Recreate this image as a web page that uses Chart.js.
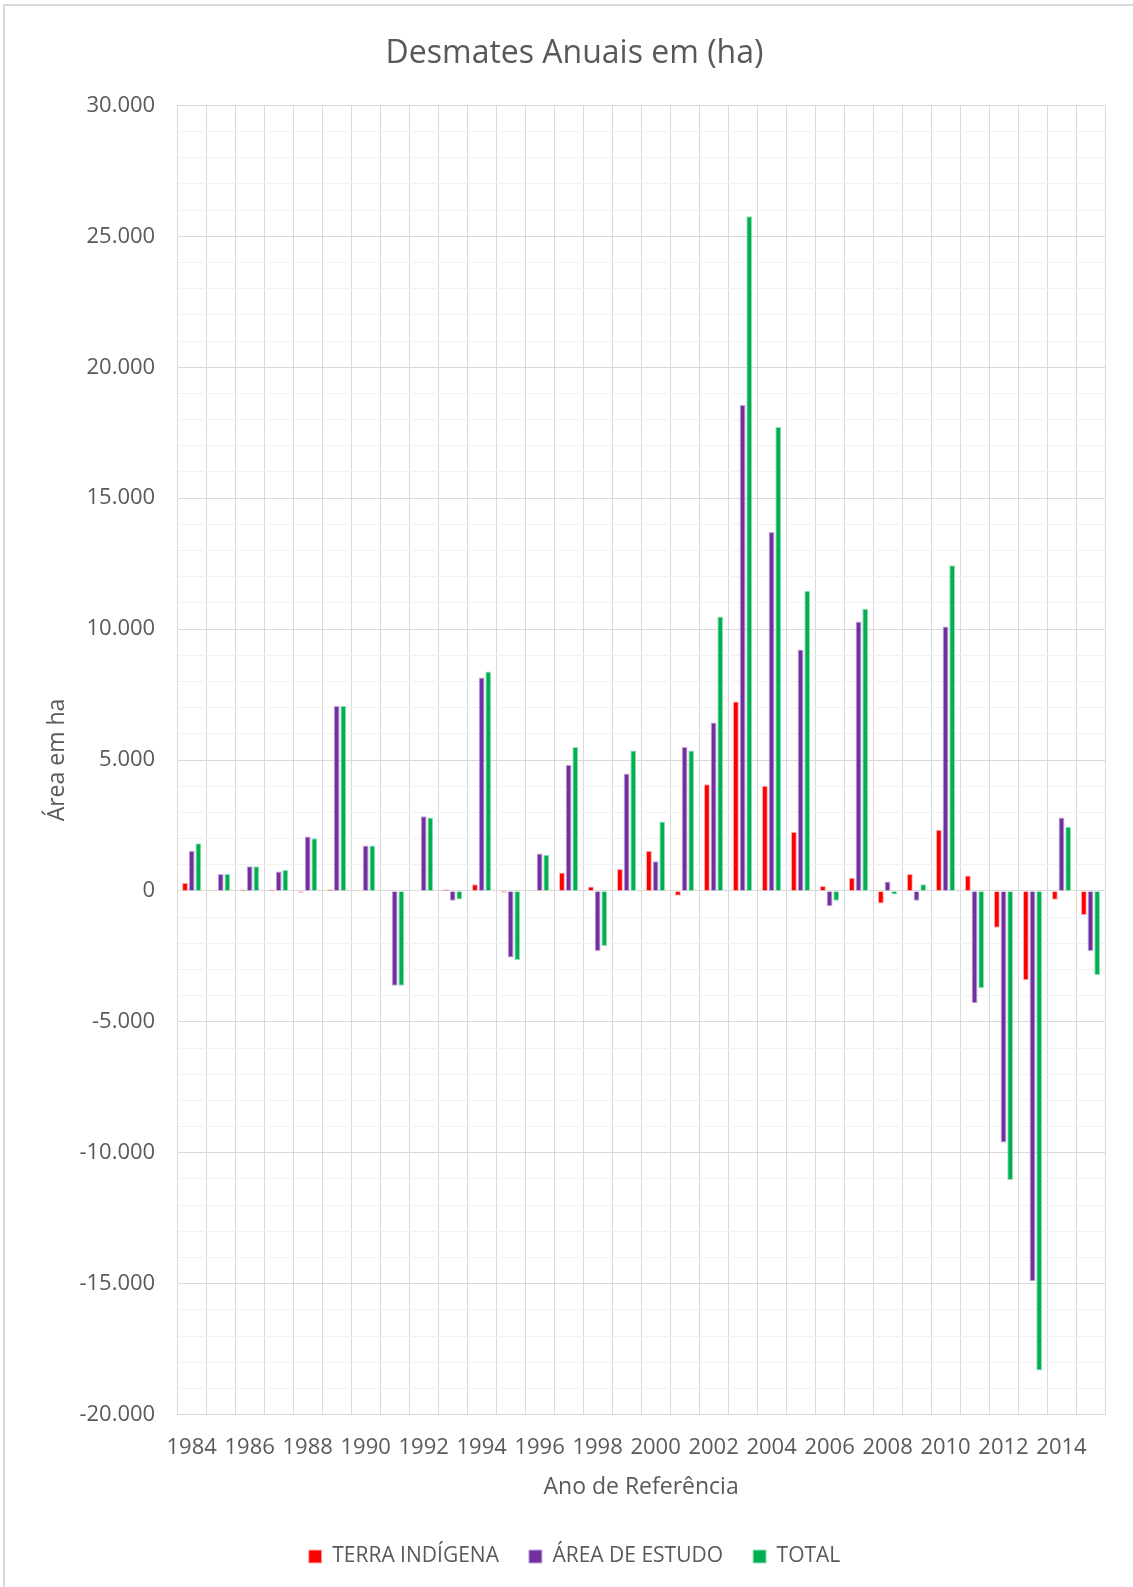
<!DOCTYPE html>
<html lang="pt">
<head>
<meta charset="utf-8">
<title>Desmates Anuais em (ha)</title>
<script src="https://cdn.jsdelivr.net/npm/chart.js@4.4.1/dist/chart.umd.min.js"></script>
<style>
  html, body { margin: 0; padding: 0; background: #ffffff; }
  #wrap { position: relative; width: 1133px; height: 1587px; }
</style>
</head>
<body>
<div id="wrap"><canvas id="chart"></canvas></div>
<script>
// Anos de referência
const years = ['1984','1985','1986','1987','1988','1989','1990','1991','1992','1993',
               '1994','1995','1996','1997','1998','1999','2000','2001','2002','2003',
               '2004','2005','2006','2007','2008','2009','2010','2011','2012','2013',
               '2014','2015'];

// Desmate anual (ha) por recorte
const terraIndigena = [310, 0, 50, 50, -70, 60, 0, 0, 0, 60,
                       250, -70, 0, 700, 170, 840, 1530, -180, 4070, 7230,
                       4020, 2250, 190, 500, -480, 650, 2340, 590, -1410, -3410,
                       -340, -920];
const areaEstudo = [1530, 650, 940, 740, 2080, 7060, 1730, -3620, 2850, -380,
                    8150, -2540, 1430, 4820, -2290, 4480, 1130, 5500, 6430, 18560,
                    13710, 9220, -590, 10290, 360, -380, 10100, -4290, -9610, -14910,
                    2800, -2290];
const total = [1820, 650, 940, 800, 2010, 7060, 1730, -3620, 2800, -330,
               8380, -2640, 1380, 5500, -2100, 5360, 2650, 5360, 10480, 25770,
               17720, 11460, -380, 10780, -140, 250, 12440, -3720, -11040, -18320,
               2450, -3210];

// Eixo vertical
const yMin = -20000;
const yMax = 30000;
const yStep = 1000;
const yLabelStep = 5000;

const seriesNames = ['TERRA INDÍGENA', 'ÁREA DE ESTUDO', 'TOTAL'];

function fmtMilhar(v) {
  const s = Math.abs(v).toString().replace(/\B(?=(\d{3})+(?!\d))/g, '.');
  return (v < 0 ? '-' : '') + s;
}

const textColor = '#595959';
Chart.defaults.font.family = "'Open Sans', sans-serif";
Chart.defaults.color = textColor;

// Fundo branco e moldura da área do gráfico
const frame = {
  id: 'frame',
  beforeDraw(chart) {
    const c = chart.ctx;
    c.save();
    c.fillStyle = '#ffffff';
    c.fillRect(0, 0, chart.width, chart.height);
    c.strokeStyle = '#d9d9d9';
    c.lineWidth = 2;
    c.strokeRect(4, 5, chart.width + 20, chart.height + 20);
    c.restore();
  }
};

new Chart(document.getElementById('chart'), {
  type: 'bar',
  data: {
    labels: years,
    datasets: [
      { label: seriesNames[0], data: terraIndigena, backgroundColor: '#ff0000', borderColor: '#ffb0b0', borderWidth: 1 },
      { label: seriesNames[1], data: areaEstudo, backgroundColor: '#7030a0', borderColor: '#c7a6dd', borderWidth: 1 },
      { label: seriesNames[2], data: total, backgroundColor: '#00b050', borderColor: '#9be0bb', borderWidth: 1 }
    ]
  },
  options: {
    responsive: true,
    maintainAspectRatio: false,
    animation: false,
    datasets: { bar: { categoryPercentage: 0.69, barPercentage: 0.88 } },
    layout: { padding: { left: 44, right: 28, top: 0, bottom: 10 } },
    plugins: {
      title: {
        display: true,
        text: 'Desmates Anuais em (ha)',
        color: textColor,
        font: { size: 32, weight: 'normal' },
        padding: { top: 34.4, bottom: 32.6 }
      },
      legend: {
        position: 'bottom',
        labels: { boxWidth: 13, boxHeight: 13, padding: 30, color: textColor, font: { size: 21 } }
      },
      tooltip: { enabled: false }
    },
    scales: {
      x: {
        grid: { color: '#d9d9d9', drawTicks: false, offset: true },
        border: { color: '#d9d9d9' },
        ticks: {
          autoSkip: false, maxRotation: 0, minRotation: 0, padding: 20,
          color: textColor, font: { size: 22 },
          callback: (v, i) => (i % 2 === 0 ? years[i] : '')
        },
        title: {
          display: true, text: 'Ano de Referência', color: textColor,
          font: { size: 23 }, padding: { top: 0, bottom: 14.5 }
        },
        afterFit(scale) { scale.height = 101.4; }
      },
      y: {
        min: yMin, max: yMax,
        grid: {
          color: c => (c.tick && c.tick.value % yLabelStep === 0 ? '#d9d9d9' : '#f2f2f2'),
          drawTicks: false
        },
        border: { color: '#d9d9d9' },
        ticks: {
          stepSize: yStep, autoSkip: false, padding: 22,
          color: textColor, font: { size: 22 },
          callback: v => (v % yLabelStep === 0 ? fmtMilhar(v) : '')
        },
        title: {
          display: true, text: 'Área em ha', color: textColor,
          font: { size: 23 }, padding: { top: 0, bottom: 0 }
        },
        afterFit(scale) { scale.width = 133.2; }
      }
    }
  },
  plugins: [frame]
});
</script>
</body>
</html>
